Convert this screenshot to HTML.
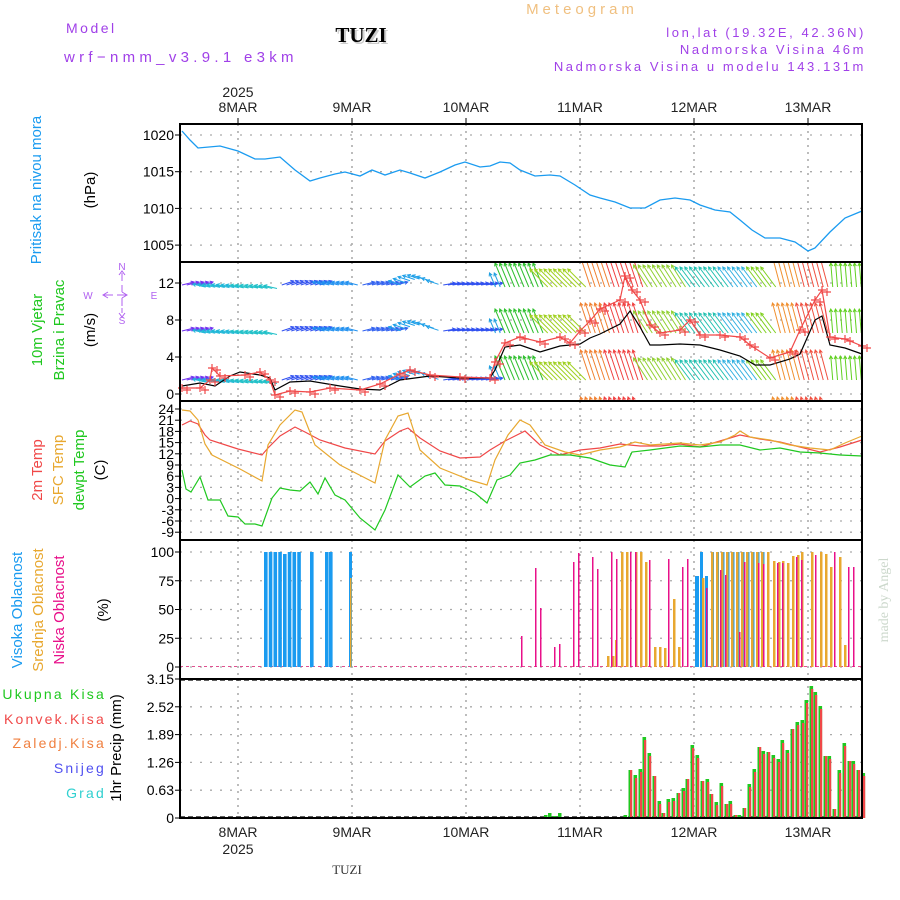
<!DOCTYPE html>
<html><head><meta charset="utf-8"><style>
body{margin:0;background:#fff;}
svg{display:block;font-family:"Liberation Sans","DejaVu Sans",sans-serif;}
</style></head><body>
<svg id="s" width="900" height="900" viewBox="0 0 900 900" xmlns="http://www.w3.org/2000/svg">
<rect width="900" height="900" fill="#fff"/>
<g id="g"></g>
</svg>
<script>
var o='';
function A(s){o+=s;}
var L=180,R=862;
function pl(pts,c,w){var d=pts.map(function(p,i){return (i?'L':'M')+p[0]+' '+p[1];}).join('');A('<path d="'+d+'" fill="none" stroke="'+c+'" stroke-width="'+(w||1.3)+'"/>');}
function P(a){var r=[];for(var i=0;i<a.length;i+=2)r.push([a[i],a[i+1]]);return r;}
function txt(x,y,s,c,sz,anc,extra){A('<text x="'+x+'" y="'+y+'" fill="'+c+'" font-size="'+sz+'" text-anchor="'+(anc||'start')+'" '+(extra||'')+'>'+s+'</text>');}
function vt(x,y,s,c,sz){A('<text x="'+x+'" y="'+y+'" fill="'+c+'" font-size="'+sz+'" text-anchor="middle" transform="rotate(-90 '+x+' '+y+')">'+s+'</text>');}
var days=[238,352,466,580,694,808];
var panels=[[124,262],[262,401],[401,540],[540,679],[679,818]];
function hgrid(y){A('<line x1="'+L+'" x2="'+R+'" y1="'+y+'" y2="'+y+'" stroke="#aaa" stroke-width="1.3" stroke-dasharray="2 8"/>');}
panels.forEach(function(p){days.forEach(function(x){A('<line x1="'+x+'" x2="'+x+'" y1="'+p[0]+'" y2="'+p[1]+'" stroke="#999" stroke-width="1.3" stroke-dasharray="2 5"/>');});});
function ticks(vals,y0,dy){vals.forEach(function(v,i){var y=y0+i*dy;hgrid(y);A('<line x1="'+(L-5)+'" x2="'+L+'" y1="'+y+'" y2="'+y+'" stroke="#000"/>');txt(L-6,y+5,v,'#000',14,'end');});}
ticks([1020,1015,1010,1005],135,36.7);
ticks([12,8,4,0],283,37);
ticks([24,21,18,15,12,9,6,3,0,-3,-6,-9],409,11.2);
ticks([100,75,50,25,0],552,28.75);
ticks(['3.15','2.52','1.89','1.26','0.63','0'],679,27.8);
pl(P([182,131,190,140,198,148,220,146,238,151,255,159,265,159,280,157,295,170,310,181,320,178,335,174,345,172,360,176,372,170,385,175,400,170,410,173,425,178,440,172,455,165,465,162,480,167,490,166,500,162,510,163,520,170,535,176,550,175,560,176,575,185,590,195,600,198,615,202,630,208,645,208,660,200,675,198,690,200,700,205,715,210,730,212,740,220,752,230,765,238,780,238,795,242,808,251,815,248,830,232,845,218,862,211]),'#1a9bf0',1.3);
var rows=[285,331,378,425];
A('<clipPath id="cw"><rect x="'+L+'" y="262" width="'+(R-L)+'" height="139"/></clipPath><g clip-path="url(#cw)">');
function arrow(x1,y1,x2,y2,c){var a=Math.atan2(y2-y1,x2-x1),h=3.5;A('<path d="M'+x1+' '+y1+'L'+x2+' '+y2+'M'+(x2-h*Math.cos(a-0.5))+' '+(y2-h*Math.sin(a-0.5))+'L'+x2+' '+y2+'L'+(x2-h*Math.cos(a+0.5))+' '+(y2-h*Math.sin(a+0.5))+'" stroke="'+c+'" stroke-width="1" fill="none"/>');}
for(var x=182;x<R;x+=4.75){
 rows.forEach(function(y0,ri){
  if(x<495){
   if(ri==3)return;
   var c,dx,dy;
   if(x<205){c='#7030f0';dx=12;dy=-3;}
   else if(x<280){c=(x<240?'#20b8d8':'#20c0c8');dx=-13;dy=-3;y0+=(x-200)*0.02+2;}
   else if(x<320){c='#3050f0';dx=12;dy=-4;}
   else if(x<360){c='#2090f0';dx=-12;dy=-3;}
   else if(x<400){c='#3060f0';dx=12;dy=-3;}
   else if(x<440){c='#20a0e8';dx=-12;dy=-4;y0-=6*Math.sin((x-400)/40*Math.PI);}
   else {c='#3050f0';dx=12;dy=-2;}
   var yy=y0+(ri==2?2:0);
   arrow(x,yy,x+dx,yy+dy,c);
  } else {
   var c='#40c830',dx=-14,dy=-22;
   if(x<505){c='#20a0e0';dx=-6;dy=-14;}
   else if(x<545){c='#30c030';dx=-10;dy=-24;}
   else if(x<590){c='#a0d020';dx=-18;dy=-18;}
   else if(x<645){c=(x<610?'#f08030':'#f04040');dx=-10;dy=-30;}
   else if(x<690){c='#90d030';dx=-14;dy=-22;}
   else if(x<760){c=(x<730?'#20c0b0':'#30b0e0');dx=-15;dy=-20;}
   else if(x<780){c='#80d020';dx=-15;dy=-20;}
   else if(x<830){c=(x<800?'#f09030':'#f05040');dx=-8;dy=-30;}
   else {c='#60d020';dx=-2;dy=-24;}
   if(ri==3 && !((x>590&&x<645)||(x>780&&x<830)))return;
   arrow(x,y0+2,x+dx,y0+2+dy,c);
  }
 });
}
A('</g>');
pl(P([182,386,200,383,215,386,230,376,240,372,260,375,270,378,275,390,290,382,310,381,340,386,360,389,380,390,400,380,430,376,460,378,490,378,495,370,505,347,520,345,540,352,560,346,580,344,590,338,600,334,620,324,630,311,640,327,650,345,660,345,680,344,700,345,720,350,740,356,755,365,770,365,790,359,800,354,815,320,822,316,830,345,845,348,862,354]),'#000',1.2);
var red=P([182,388,200,388,210,380,212,368,220,376,245,375,260,372,270,380,275,395,290,391,310,392,330,388,360,390,380,384,400,374,410,370,430,375,460,377,490,378,495,362,505,343,520,337,540,342,560,337,570,343,580,331,590,321,600,309,620,300,625,276,632,290,640,300,650,325,660,333,680,330,690,320,700,335,720,335,740,337,750,345,770,358,790,352,800,330,815,300,822,290,830,337,845,339,862,346]);
pl(red,'#f04848',1.2);
red.forEach(function(p){for(var k=0;k<2;k++){var px=p[0]+k*5,py=p[1]+(k?2:0);A('<path d="M'+(px-4)+' '+py+'h8M'+px+' '+(py-4)+'v8" stroke="#f04848" stroke-width="1.2"/>');}});
pl(P([182,425,190,421,198,424,205,435,210,440,238,449,262,455,268,448,280,436,295,427,305,432,320,440,345,448,375,454,385,441,400,431,408,428,420,438,440,451,460,458,480,457,490,450,505,441,525,431,540,445,560,455,580,450,600,448,620,444,640,446,660,446,680,444,700,447,720,441,740,435,760,439,780,442,800,447,820,452,840,447,862,440]),'#f04848',1.2);
pl(P([182,410,190,411,198,420,205,444,212,455,240,469,262,481,268,445,280,425,295,410,302,412,315,445,340,465,375,483,385,440,398,416,408,413,420,450,440,468,470,480,487,485,495,460,508,435,520,420,530,425,545,445,565,452,580,455,600,450,620,447,635,442,650,445,680,443,700,445,720,442,735,435,740,431,750,437,770,440,790,445,810,448,830,450,845,443,862,436]),'#e8a830',1.2);
pl(P([182,470,186,489,191,492,200,477,208,500,220,500,228,516,238,517,245,524,255,524,262,526,272,498,280,488,290,490,300,491,310,482,318,494,325,478,335,495,345,500,360,518,375,530,385,510,398,475,410,487,425,476,435,473,445,485,460,486,475,493,487,503,497,480,510,475,520,463,535,460,550,455,570,455,590,458,610,465,625,467,632,452,650,450,680,446,700,447,720,445,740,445,760,450,780,448,800,452,820,453,840,455,862,456]),'#20c820',1.2);
A('<line x1="'+L+'" x2="'+R+'" y1="666.5" y2="666.5" stroke="#e05090" stroke-width="1" stroke-dasharray="3 3"/>');
function bar(x,y,w,c,base){A('<rect x="'+x+'" y="'+y+'" width="'+w+'" height="'+((base||667)-y)+'" fill="'+c+'"/>');}
for(var x=264;x<300;x+=4.75)bar(x,552+(x>280&&x<285?2:0),3.6,'#1a9bf0');
bar(310,552,3.6,'#1a9bf0');bar(325,552,3.6,'#1a9bf0');bar(329,552,3.6,'#1a9bf0');bar(349,552,3,'#1a9bf0');bar(350,578,1.5,'#e8a830');
[[695,576,4],[700,552,3],[705,576,3],[712,552,2],[717,552,2]].forEach(function(b){bar(b[0],b[1],b[2],'#1a9bf0');});
for(var x=722;x<766;x+=5)bar(x,552,2.5,'#1a9bf0');
[[607,656],[612,656],[615,640],[621,552],[626,552],[635,552],[640,552],[645,562],[654,647],[659,647],[664,648],[673,599],[678,647],[702,578],[711,552],[716,552],[721,552],[726,552],[731,552],[736,552],[741,552],[746,552],[751,552],[756,552],[761,552],[767,552],[773,561],[778,562],[782,561],[787,563],[792,556],[797,555],[801,552],[811,552],[820,552],[825,554],[830,567],[839,557],[844,645]].forEach(function(b){bar(b[0],b[1],2.5,'#e8a830');});
[[521,636],[535,568],[540,608],[554,647],[559,644],[573,562],[578,553],[592,557],[597,569],[611,552],[616,559],[630,552],[635,552],[649,560],[668,559],[682,567],[687,559],[706,588],[720,570],[725,575],[739,632],[744,562],[758,563],[763,564],[777,563],[782,563],[796,557],[801,560],[815,555],[834,552],[848,567],[853,567]].forEach(function(b){bar(b[0],b[1],1.5,'#e8108a');});
A('<line x1="'+L+'" x2="'+R+'" y1="680" y2="680" stroke="#000" stroke-width="1.2" stroke-dasharray="5 3"/>');
A('<line x1="'+L+'" x2="'+R+'" y1="817" y2="817" stroke="#000" stroke-width="1.2" stroke-dasharray="5 3"/>');
[[544,815],[548,813],[553,816],[558,813]].forEach(function(b){bar(b[0],b[1],3.5,'#20c820',818);});
[[625,815],[630,770],[635,775],[640,769],[644,737],[649,753],[654,776],[659,801],[663,813],[668,799],[673,798],[678,793],[683,788],[687,779],[692,745],[697,755],[702,781],[707,779],[711,794],[716,802],[721,783],[726,804],[730,801],[735,815],[739,815],[744,808],[749,784],[754,769],[759,747],[763,751],[768,752],[773,755],[778,759],[782,740],[787,750],[792,729],[797,722],[802,720],[806,700],[811,686],[815,692],[820,706],[825,756],[829,756],[834,809],[839,770],[844,743],[849,761],[853,761],[858,770],[863,773]].forEach(function(b){var x=b[0]-1.5;bar(x,b[1],3.6,'#20c820',818);bar(x+1.5,b[1]+(b[0]%3==0?0:3),2.2,'#f04848',818);});
panels.forEach(function(p){A('<rect x="'+L+'" y="'+p[0]+'" width="'+(R-L)+'" height="'+(p[1]-p[0])+'" fill="none" stroke="#000" stroke-width="2"/>');});
var dn=['8MAR','9MAR','10MAR','11MAR','12MAR','13MAR'];
days.forEach(function(x,i){txt(x,112,dn[i],'#222',14,'middle');txt(x,837,dn[i],'#222',14,'middle');A('<line x1="'+x+'" x2="'+x+'" y1="118" y2="124" stroke="#000"/>');});
txt(238,97,'2025','#222',14,'middle');txt(238,854,'2025','#222',14,'middle');
txt(66,33,'Model','#a040e8',14,'start','letter-spacing="2.5"');
txt(64,62,'wrf−nmm_v3.9.1 e3km','#a040e8',15,'start','letter-spacing="4.3"');
A('<text x="363" y="44" fill="#ccc" font-size="21" font-weight="bold" text-anchor="middle" font-family="Liberation Serif,serif">TUZI</text>');
A('<text x="361" y="42" fill="#000" font-size="21" font-weight="bold" text-anchor="middle" font-family="Liberation Serif,serif">TUZI</text>');
txt(582,14,'Meteogram','#f0c080',15,'middle','letter-spacing="4"');
txt(866,37,'lon,lat (19.32E, 42.36N)','#a040e8',13,'end','letter-spacing="2.6"');
txt(866,54,'Nadmorska Visina 46m','#a040e8',13,'end','letter-spacing="2.6"');
txt(866,71,'Nadmorska Visina u modelu 143.131m','#a040e8',13,'end','letter-spacing="2.6"');
A('<text x="347" y="874" fill="#333" font-size="13" text-anchor="middle" font-family="Liberation Serif,serif">TUZI</text>');
A('<text x="888" y="600" fill="#ccd8cc" font-size="14" text-anchor="middle" font-family="Liberation Serif,serif" transform="rotate(-90 888 600)">made by Angel</text>');
vt(41,190,'Pritisak na nivou mora','#1a9bf0',15);vt(95,190,'(hPa)','#000',15);
vt(42,330,'10m Vjetar','#20c820',15);vt(64,330,'Brzina i Pravac','#20c820',15);vt(95,330,'(m/s)','#000',15);
A('<g stroke="#b060f0" fill="none" stroke-width="1"><path d="M103 295h10M117 295h10M122 292l5 3-5 3M108 292l-5 3 5 3M122 273v8M122 285v7M119 275l3-4 3 4M119 313l3 4 3-4M122 298v8M122 308v5"/></g>');
txt(122,270,'N','#b060f0',10,'middle');txt(88,299,'W','#b060f0',10,'middle');txt(154,299,'E','#b060f0',10,'middle');txt(122,324,'S','#b060f0',10,'middle');
vt(42,470,'2m Temp','#f04848',15);vt(63,470,'SFC Temp','#e8a830',15);vt(84,470,'dewpt Temp','#20c820',15);vt(105,470,'(C)','#000',15);
vt(22,610,'Visoka Oblacnost','#1a9bf0',15);vt(43,610,'Srednja Oblacnost','#e8a830',15);vt(64,610,'Niska Oblacnost','#e8108a',15);vt(108,610,'(%)','#000',15);
txt(106,699,'Ukupna Kisa','#20c820',14,'end','letter-spacing="2.2"');
txt(106,724,'Konvek.Kisa','#f04848',14,'end','letter-spacing="2.2"');
txt(106,748,'Zaledj.Kisa','#f08040',14,'end','letter-spacing="2.2"');
txt(106,773,'Snijeg','#5050f0',14,'end','letter-spacing="2.2"');
txt(106,798,'Grad','#30d0d0',14,'end','letter-spacing="2.2"');
vt(121,748,'1hr Precip (mm)','#000',15);
document.getElementById('g').innerHTML=o;
</script>
</body></html>
